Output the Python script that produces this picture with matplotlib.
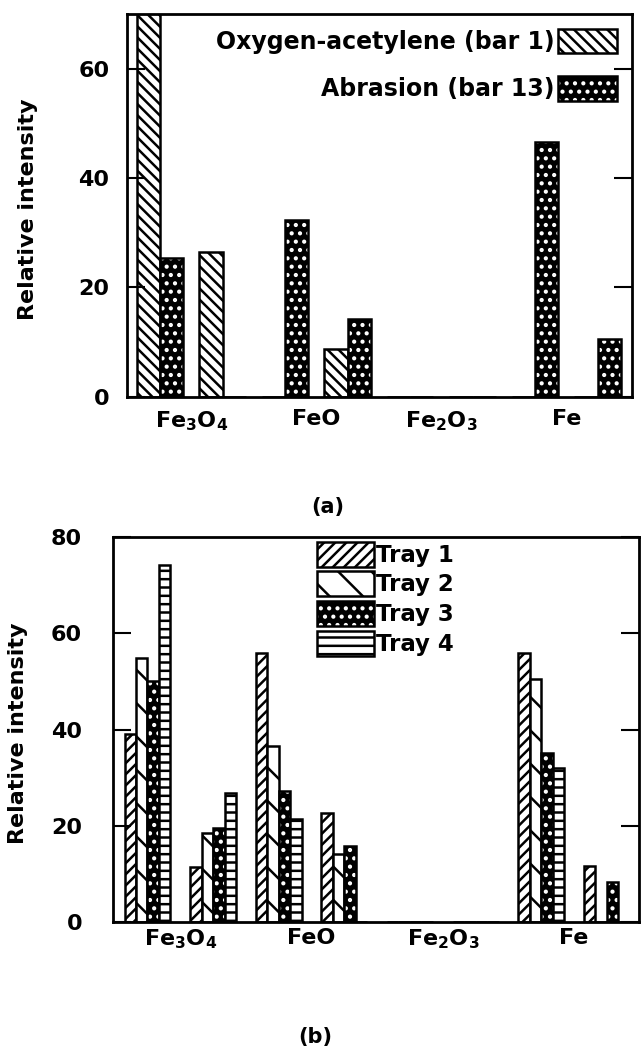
import numpy as np
import matplotlib.pyplot as plt

plt.rcParams['font.family'] = 'DejaVu Sans'
plt.rcParams['font.weight'] = 'bold'
plt.rcParams['axes.labelweight'] = 'bold'
plt.rcParams['mathtext.fontset'] = 'dejavusans'
plt.rcParams['mathtext.default'] = 'bf'
plt.rcParams['hatch.linewidth'] = 1.8

# data
compounds = [r'Fe$_3$O$_4$', 'FeO', r'Fe$_2$O$_3$', 'Fe']
# two peaks per compound -> 8 slots
oxy_a = [75, 26.4, 0, 8.8, 0, 0, 0, 0]          # Oxygen-acetylene (bar 1), first one runs off the top
abr_a = [25.3, 0, 32.4, 14.3, 0, 0, 46.5, 10.6]  # Abrasion (bar 13)

tray1 = [39.1, 11.5, 56.0, 22.7, 0, 0, 56.0, 11.6]
tray2 = [54.8, 18.5, 36.7, 14.1, 0, 0, 50.5, 0]
tray3 = [50.1, 19.6, 27.2, 15.8, 0, 0, 35.1, 8.4]
tray4 = [74.2, 26.8, 21.5, 0, 0, 0, 32.0, 0]

slots = np.arange(len(oxy_a))
edge_lw = 1.8


def dotted_bars(ax, x, h, w):
    # black bar with white dots, then a black outline on top
    b1 = ax.bar(x, h, w, align='edge', color='black', edgecolor='white',
                hatch='..', linewidth=0)
    b2 = ax.bar(x, h, w, align='edge', fill=False, edgecolor='black',
                linewidth=edge_lw)
    return (b1.patches[0], b2.patches[0])


def style_axis(ax, ymax, yticks, ypad, xpad):
    ax.set_ylim(0, ymax)
    ax.set_yticks(yticks)
    ax.tick_params(axis='y', direction='in', left=True, right=True,
                   length=13, width=1.5, labelsize=16, pad=ypad)
    ax.tick_params(axis='x', length=0, labelsize=16, pad=xpad)
    for s in ax.spines.values():
        s.set_linewidth(2)


fig = plt.figure(figsize=(6.42, 10.49), dpi=100)

# ---------------- (a)
ax1 = fig.add_axes([126.7 / 642, 1 - 396.7 / 1049, 505 / 642, 382.7 / 1049])
wa = 0.373
oxy = ax1.bar(slots, oxy_a, wa, align='edge', color='white', edgecolor='black',
              hatch='\\\\\\', linewidth=edge_lw)
abr = dotted_bars(ax1, slots + wa, abr_a, wa)
ax1.set_xlim(-0.16, 7.92)
style_axis(ax1, 70, [0, 20, 40, 60], 12.5, 9)
ax1.set_xticks(slots[::2] + (1 + 2 * wa) / 2)
ax1.set_xticklabels(compounds)
ax1.set_ylabel('Relative intensity', fontsize=16)
ax1.yaxis.set_label_coords(-0.175, 0.49)
ax1.legend([oxy.patches[0], abr], ['Oxygen-acetylene (bar 1)', 'Abrasion (bar 13)'],
           loc='upper right', bbox_to_anchor=(0.971, 0.961), frameon=False,
           markerfirst=False, fontsize=17, handlelength=2.5, handleheight=1.2,
           labelspacing=0.95, handletextpad=0.15, borderpad=0, borderaxespad=0)

# ---------------- (b)
ax2 = fig.add_axes([112.7 / 642, 1 - 922 / 1049, 526.3 / 642, 384.7 / 1049])
wb = 0.175
t1 = ax2.bar(slots, tray1, wb, align='edge', color='white', edgecolor='black',
             hatch='///', linewidth=edge_lw)
t2 = ax2.bar(slots + wb, tray2, wb, align='edge', color='white', edgecolor='black',
             hatch='\\', linewidth=edge_lw)
t3 = dotted_bars(ax2, slots + 2 * wb, tray3, wb)
t4 = ax2.bar(slots + 3 * wb, tray4, wb, align='edge', color='white', edgecolor='black',
             hatch='--', linewidth=edge_lw)
ax2.set_xlim(-0.18, 7.84)
style_axis(ax2, 80, [0, 20, 40, 60, 80], 22, 4)
ax2.set_xticks(slots[::2] + (1 + 4 * wb) / 2)
ax2.set_xticklabels(compounds)
ax2.set_ylabel('Relative intensity', fontsize=16)
ax2.yaxis.set_label_coords(-0.16, 0.49)
ax2.legend([t1.patches[0], t2.patches[0], t3, t4.patches[0]],
           ['Tray 1', 'Tray 2', 'Tray 3', 'Tray 4'],
           loc='upper left', bbox_to_anchor=(0.388, 0.989), frameon=False,
           fontsize=16.5, handlelength=2.5, handleheight=1.3,
           labelspacing=0.2, handletextpad=0.1, borderpad=0, borderaxespad=0)

fig.text(328 / 642, 1 - 507 / 1049, '(a)', ha='center', va='center', fontsize=15)
fig.text(315 / 642, 1 - 1037 / 1049, '(b)', ha='center', va='center', fontsize=15)

fig.savefig('out.png', dpi=100)
